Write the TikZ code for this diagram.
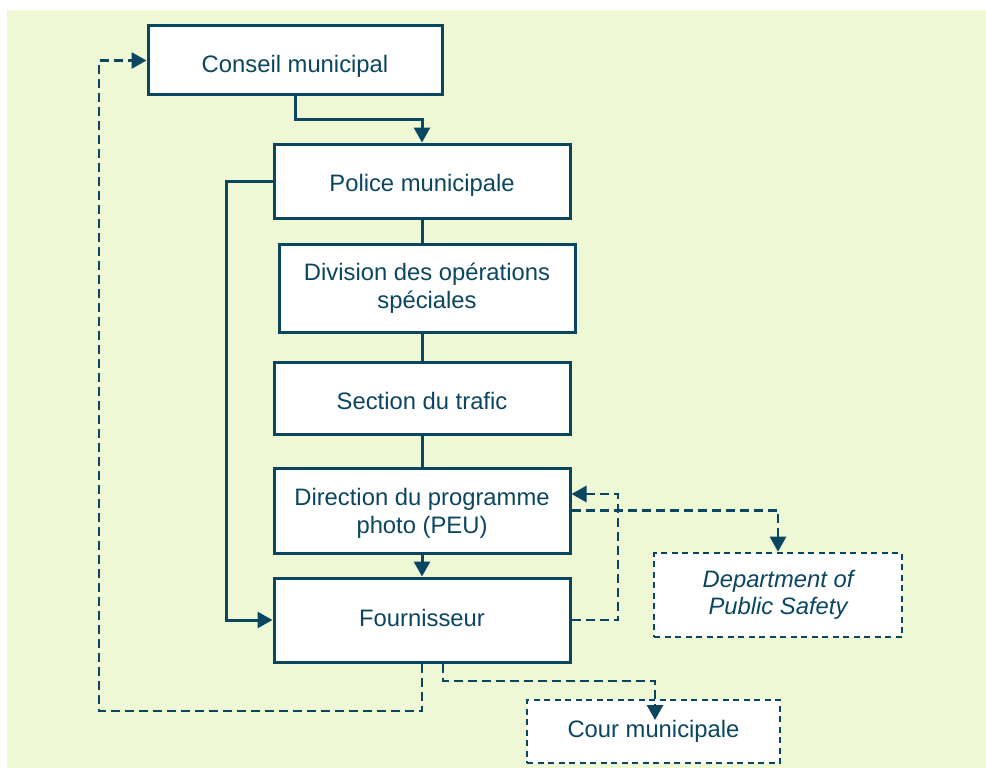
\documentclass[tikz,border=0pt]{standalone}
\usepackage{fontspec}
\setmainfont{Liberation Sans}
\usetikzlibrary{arrows.meta}
\definecolor{ink}{HTML}{0B4660}
\definecolor{leaf}{HTML}{EEF8D5}
\begin{document}
\begin{tikzpicture}[x=1pt,y=-1pt,
  txt/.style={font=\fontsize{23.8}{27.6}\selectfont, text=ink, align=center, inner sep=0pt},
  box/.style={draw=ink, line width=3pt, fill=white, rectangle, inner sep=0pt},
  dbox/.style={box, line width=2.6pt, dash pattern=on 6pt off 4.5pt},
  link/.style={draw=ink, line width=3pt},
  dlink/.style={link, line width=2.8pt, dash pattern=on 9pt off 5pt},
  tip/.style={-{Triangle[width=16pt,length=15pt]}}]
\useasboundingbox (0,0) rectangle (986,768);
\fill[leaf] (7,10) rectangle (986,768);

% boxes of the chain
\node[box, minimum width=294pt, minimum height=69pt] (conseil) at (295,60.5) {};
\node[box, minimum width=296pt, minimum height=74pt] (police) at (422,181) {};
\node[box, minimum width=296pt, minimum height=88pt] (division) at (427,288) {};
\node[box, minimum width=296pt, minimum height=72pt] (section) at (422,398) {};
\node[box, minimum width=296pt, minimum height=85pt] (direction) at (422,510.5) {};
\node[box, minimum width=296pt, minimum height=84pt] (fourn) at (422,620) {};

% outside bodies
\node[dbox, minimum width=248pt, minimum height=84pt] (dps) at (778,595) {};
\node[dbox, minimum width=253pt, minimum height=63pt] (cour) at (653.5,731.5) {};

% box texts
\node[txt] (tconseil) at ([yshift=-6pt]conseil.center) {Conseil municipal};
\node[txt] (tpolice) at ([yshift=-4pt]police.center) {Police municipale};
\node[txt] (tdivision) at ([yshift=0pt]division.center) {Division des opérations\\spéciales};
\node[txt] (tsection) at ([yshift=-3pt]section.center) {Section du trafic};
\node[txt] (tdirection) at ([yshift=-3pt]direction.center) {Direction du programme\\photo (PEU)};
\node[txt] (tfourn) at ([yshift=2pt]fourn.center) {Fournisseur};
\node[txt] (tdps) at (dps.center) {\itshape Department of\\\itshape Public Safety};
\node[txt] (tcour) at (cour.center) {Cour municipale};

% bend points
\coordinate (bend1) at (295,119);
\coordinate (bend2) at (226,181);
\coordinate (bend3) at (618,494);
\coordinate (bend4) at (99,711);
\coordinate (bend5) at (443,681);
\coordinate (coin) at (655,720);

% solid links
\draw[link, tip] (conseil.south) |- (bend1) -| (police.north);
\draw[link] (police.south) -- (police.south |- division.north);
\draw[link] (section.north) -- (section.north |- division.south);
\draw[link] (section.south) -- (direction.north);
\draw[link, tip] (direction.south) -- (fourn.north);
\draw[link, tip] (police.west) -- (bend2) |- (fourn.west);

% dashed links
\draw[dlink, tip] (fourn.east) -| (bend3) -- (direction.east |- bend3);
\draw[dlink, tip] (direction.east) -| (dps.north);
\draw[dlink, tip] (fourn.south) |- (bend4) |- (conseil.west);
\draw[dlink, tip] (fourn.south -| bend5) -- (bend5) -| (coin);
\end{tikzpicture}
\end{document}
